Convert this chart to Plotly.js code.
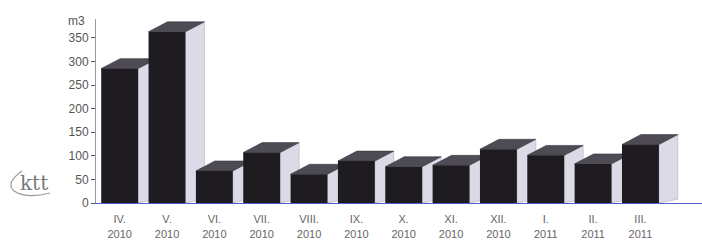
<!DOCTYPE html>
<html><head><meta charset="utf-8">
<script src="https://cdn.plot.ly/plotly-3.0.1.min.js"></script>
<style>html,body{margin:0;padding:0;background:#fff}#chart{width:702px;height:241px}</style>
</head><body><div id="chart"></div>
<script>
// Data
const months = ['IV.','V.','VI.','VII.','VIII.','IX.','X.','XI.','XII.','I.','II.','III.'];
const years = ['2010','2010','2010','2010','2010','2010','2010','2010','2010','2011','2011','2011'];
const values = [285, 363, 68, 107, 61, 89, 77, 80, 114, 101, 83, 124];
const yTicks = [0, 50, 100, 150, 200, 250, 300, 350];
const unitLabel = 'm3';
const logoText = 'ktt';

// Styling / geometry of the 3D effect (in axis units)
const W = 0.78, DX = 0.40, DY = 21, DYB = 8;
const idx = values.map((_, i) => i);
const traces = [];
values.forEach((v, i) => {
  const l = i - W / 2, r = i + W / 2;
  traces.push({type: 'scatter', mode: 'lines', x: [r, r + DX, r + DX, r, r], y: [0, DYB, v + DY, v, 0],
    fill: 'toself', fillcolor: '#dcdae6', line: {width: 0.6, color: '#b3b0c4'}, hoverinfo: 'skip', showlegend: false});
  traces.push({type: 'scatter', mode: 'lines', x: [l, r, r + DX, l + DX, l], y: [v, v, v + DY, v + DY, v],
    fill: 'toself', fillcolor: '#4e4b55', line: {width: 0.6, color: '#3b3640'}, hoverinfo: 'skip', showlegend: false});
});
traces.push({type: 'bar', x: idx, y: values, width: W, marker: {color: '#1e1c21', line: {width: 0}},
  xaxis: 'x2', yaxis: 'y2', hoverinfo: 'y', showlegend: false});

const px = p => (p - 96) / 606;
const py = p => (203 - p) / 184;

const layout = {
  width: 702, height: 241,
  margin: {l: 96, r: 0, t: 19, b: 38, pad: 0},
  paper_bgcolor: '#fff', plot_bgcolor: '#fff',
  font: {family: 'Liberation Sans, Arial, sans-serif', size: 11, color: '#555'},
  showlegend: false,
  xaxis: {range: [-0.5, 12.3], tickvals: idx, ticktext: months.map((m, i) => m + '<br>' + years[i]),
    showline: true, linecolor: '#4a63c8', linewidth: 1, ticks: '', showgrid: false, zeroline: false,
    ticklabelstandoff: 6, tickfont: {size: 11, color: '#666'}, fixedrange: true},
  yaxis: {range: [0, 390], tickvals: yTicks, ticks: 'outside', ticklen: 4, tickcolor: '#555', tickwidth: 1,
    showline: true, linecolor: '#9a9a9a', linewidth: 1, showgrid: false, zeroline: false,
    tickfont: {size: 12, color: '#555'}, fixedrange: true},
  xaxis2: {overlaying: 'x', range: [-0.5, 12.3], visible: false, fixedrange: true},
  yaxis2: {overlaying: 'y', range: [0, 390], visible: false, fixedrange: true},
  annotations: [
    {text: unitLabel, xref: 'paper', yref: 'y', x: px(66), y: 385, xanchor: 'left', yanchor: 'middle',
      showarrow: false, font: {size: 12, color: '#555'}},
    {text: logoText, xref: 'paper', yref: 'paper', x: px(34), y: py(183), xanchor: 'center', yanchor: 'middle',
      showarrow: false, font: {family: 'DejaVu Serif, serif', size: 20, color: '#7a7a7a'}}
  ],
  shapes: [
    {type: 'path', xref: 'paper', yref: 'paper',
      path: `M ${px(22)} ${py(171)} Q ${px(5)} ${py(183)} ${px(14)} ${py(191)} Q ${px(26)} ${py(199)} ${px(50)} ${py(193)}`,
      line: {color: '#9a9a9a', width: 1.2}}
  ]
};
Plotly.newPlot('chart', traces, layout, {displayModeBar: false, staticPlot: true});
</script></body></html>
